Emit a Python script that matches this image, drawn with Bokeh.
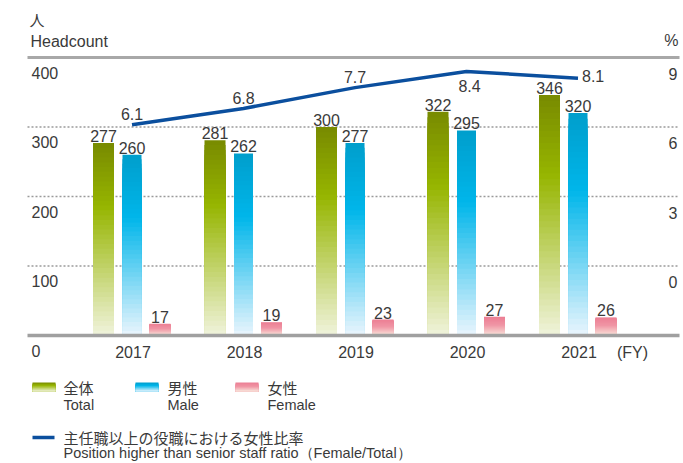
from bokeh.plotting import figure
from bokeh.models import Range1d
from bokeh.core.properties import value
from bokeh.embed import file_html
from bokeh.resources import INLINE

# ---------------- data ----------------
years = ["2017", "2018", "2019", "2020", "2021"]
total = [277, 281, 300, 322, 346]
male = [260, 262, 277, 295, 320]
female = [17, 19, 23, 27, 26]
ratio = [6.1, 6.8, 7.7, 8.4, 8.1]
left_ticks = [0, 100, 200, 300, 400]
right_ticks = [0, 3, 6, 9]

# ---------------- layout helpers ----------------
W, H = 680, 463
OFF = 0
PX_X = 111.5          # px per category step
X0 = 131.5            # picture px of first category
PX_Y = 0.695          # px per headcount unit
Y0 = 335              # picture px of value 0 (from top)


def xd(px):
    return (px - X0) / PX_X


def yd(py):
    return (Y0 - py) / PX_Y


y_start, y_end = yd(OFF + H), yd(OFF)
p = figure(width=W, height=H, output_backend="svg", toolbar_location=None,
           x_axis_type=None, y_axis_type=None, min_border=0,
           x_range=Range1d(xd(OFF), xd(OFF + W)), y_range=Range1d(y_start, y_end))
p.outline_line_color = None
p.background_fill_color = "white"
p.border_fill_color = "white"
p.extra_y_ranges = {"pct": Range1d((y_start - 100) * 0.03, (y_end - 100) * 0.03)}

FONT = value("Liberation Sans")
JP = value("Noto Sans CJK JP")
TXT = "#3a3a3a"


def hexc(c):
    return "#%02x%02x%02x" % tuple(int(round(v)) for v in c)


def grad(stops, t):
    for (t0, c0), (t1, c1) in zip(stops, stops[1:]):
        if t <= t1:
            f = 0 if t1 == t0 else (t - t0) / (t1 - t0)
            return hexc([a + (b - a) * f for a, b in zip(c0, c1)])
    return hexc(stops[-1][1])


G_TOTAL = [(0.0, (120, 138, 0)), (0.33, (150, 181, 0)), (1.0, (240, 243, 220))]
G_MALE = [(0.0, (0, 158, 204)), (0.35, (0, 182, 234)), (1.0, (234, 245, 253))]
G_FEM = [(0.0, (236, 126, 148)), (0.45, (240, 150, 165)), (1.0, (249, 230, 220))]

# ---------------- grid lines ----------------
gx0, gx1 = xd(27), xd(679)
p.segment(x0=[gx0] * 3, x1=[gx1] * 3, y0=left_ticks[1:4], y1=left_ticks[1:4],
          line_color="#9a9a9a", line_width=1.5, line_dash="2 2")
p.segment(x0=[gx0], x1=[gx1], y0=[left_ticks[-1]], y1=[left_ticks[-1]],
          line_color="#a8a8a8", line_width=3)

# ---------------- gradient bars ----------------
N = 40
series = [(total, -28.5, 21, G_TOTAL), (male, 0.0, 19, G_MALE), (female, 28.0, 21, G_FEM)]
for vals, off, wid, stops in series:
    L, R, T, B, C = [], [], [], [], []
    for i, v in enumerate(vals):
        cx = i + off / PX_X
        for k in range(N, 0, -1):
            L.append(cx - wid / 2 / PX_X)
            R.append(cx + wid / 2 / PX_X)
            T.append(v * k / N)
            B.append(0)
            C.append(grad(stops, 1 - (k - 0.5) / N))
    p.quad(left=L, right=R, top=T, bottom=B, fill_color=C, line_color=None)
    p.text(x=[i + off / PX_X for i in range(len(vals))], y=vals,
           text=[str(v) for v in vals], text_align="center",
           text_baseline="alphabetic", y_offset=-7,
           text_font=FONT, text_font_size="16px", text_color=TXT)

# baseline
p.segment(x0=[gx0], x1=[gx1], y0=[left_ticks[0]], y1=[left_ticks[0]],
          line_color="#a0a0a0", line_width=3.5)

# ---------------- ratio line ----------------
xs = list(range(len(years)))
p.line(x=xs, y=ratio, y_range_name="pct", line_color="#0b4f9e", line_width=3.5)
lab_style = [
    dict(text_align="center", text_baseline="alphabetic", x_offset=0, y_offset=-11),
    dict(text_align="center", text_baseline="alphabetic", x_offset=0, y_offset=-10),
    dict(text_align="center", text_baseline="alphabetic", x_offset=0, y_offset=-11),
    dict(text_align="center", text_baseline="top", x_offset=3, y_offset=9),
    dict(text_align="left", text_baseline="middle", x_offset=4, y_offset=-2),
]
for i, r in enumerate(ratio):
    p.text(x=[i], y=[r], text=[f"{r:.1f}"], y_range_name="pct",
           text_font=FONT, text_font_size="16px", text_color=TXT, **lab_style[i])

# ---------------- axes labels ----------------
p.text(x=[xd(31)] * len(left_ticks), y=left_ticks, text=[str(t) for t in left_ticks],
       text_align="left", text_baseline="middle", y_offset=15,
       text_font=FONT, text_font_size="16px", text_color=TXT)
p.text(x=[xd(677)] * len(right_ticks), y=right_ticks, text=[str(t) for t in right_ticks],
       y_range_name="pct", text_align="right", text_baseline="middle", y_offset=16,
       text_font=FONT, text_font_size="16px", text_color=TXT)
p.text(x=[i + 1 / PX_X for i in xs], y=[0] * len(xs), text=years,
       text_align="center", text_baseline="middle", y_offset=16,
       text_font=FONT, text_font_size="16px", text_color=TXT)
p.text(x=[xd(632)], y=[0], text=["(FY)"], text_align="center", text_baseline="middle",
       y_offset=17, text_font=FONT, text_font_size="16px", text_color=TXT)
p.text(x=[xd(29)], y=[yd(19)], text=["人"], text_align="left", text_baseline="middle",
       text_font=JP, text_font_size="15px", text_color=TXT)
p.text(x=[xd(30)], y=[yd(41)], text=["Headcount"], text_align="left", text_baseline="middle",
       text_font=FONT, text_font_size="16px", text_color=TXT)
p.text(x=[xd(678)], y=[yd(40)], text=["%"], text_align="right", text_baseline="middle",
       text_font=FONT, text_font_size="16px", text_color=TXT)

# ---------------- legend ----------------
NS = 10
for lx, stops in [(32, G_TOTAL), (135, G_MALE), (235, G_FEM)]:
    L, R, T, B, C = [], [], [], [], []
    for k in range(NS, 0, -1):
        L.append(xd(lx)); R.append(xd(lx + 23))
        T.append(yd(391 - 9 * k / NS)); B.append(yd(391))
        C.append(grad(stops, 1 - (k - 0.5) / NS))
    p.quad(left=L, right=R, top=T, bottom=B, fill_color=C, line_color=None)

leg_jp = ["全体", "男性", "女性"]
leg_en = ["Total", "Male", "Female"]
leg_x = [63, 167, 267]
p.text(x=[xd(v) for v in leg_x], y=[yd(387)] * 3, text=leg_jp, text_align="left",
       text_baseline="middle", text_font=JP, text_font_size="15px", text_color=TXT)
p.text(x=[xd(v) for v in leg_x], y=[yd(404)] * 3, text=leg_en, text_align="left",
       text_baseline="middle", text_font=FONT, text_font_size="14.5px", text_color=TXT)
p.segment(x0=[xd(32)], x1=[xd(54)], y0=[yd(437)], y1=[yd(437)],
          line_color="#0b4f9e", line_width=3.5)
p.text(x=[xd(63)], y=[yd(437)], text=["主任職以上の役職における女性比率"], text_align="left",
       text_baseline="middle", text_font=JP, text_font_size="15px", text_color=TXT)
p.text(x=[xd(63)], y=[yd(452)], text=["Position higher than senior staff ratio（Female/Total）"],
       text_align="left", text_baseline="middle", text_font=FONT,
       text_font_size="14.5px", text_color=TXT)

open("out.html", "w").write(file_html(p, INLINE))
